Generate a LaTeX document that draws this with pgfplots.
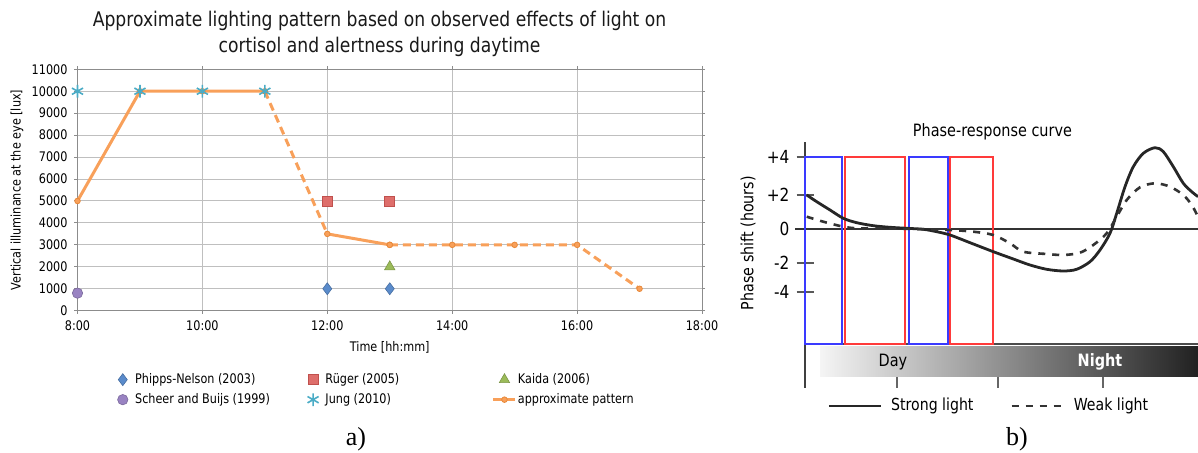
\documentclass[border=0pt]{standalone}
\usepackage{pgfplots}
\pgfplotsset{compat=1.18}
\usepackage{fontspec}
\setmainfont{DejaVu Sans}[FakeStretch=0.85]
\newfontfamily\timesfont{Liberation Serif}

\definecolor{gridc}{HTML}{BFBFBF}
\definecolor{axc}{HTML}{8C8C8C}
\definecolor{orng}{HTML}{F8A05A}
\definecolor{orngd}{HTML}{E8893A}
\definecolor{pnblue}{HTML}{5A8BCB}
\definecolor{rgred}{HTML}{DE6E6B}
\definecolor{rgredd}{HTML}{C0504D}
\definecolor{kgreen}{HTML}{9BBB59}
\definecolor{spurp}{HTML}{9983C2}
\definecolor{jcyan}{HTML}{4BACC6}
\definecolor{prcblue}{HTML}{3A3AFF}
\definecolor{prcred}{HTML}{FF3A3A}

\begin{document}
\begin{tikzpicture}
\path[use as bounding box] (0,0) rectangle (599pt,-226.5pt);

% ---------------- panel a ----------------
\begin{axis}[
  scale only axis, width=312.25pt, height=120.7pt,
  at={(38.75pt,-155.35pt)}, anchor=south west,
  xmin=8, xmax=18, ymin=0, ymax=11000,
  clip=false,
  xtick={8,10,12,14,16,18},
  xticklabels={8:00,10:00,12:00,14:00,16:00,18:00},
  ytick={0,1000,...,11000},
  scaled y ticks=false,
  /pgf/number format/1000 sep={},
  /pgf/number format/assume math mode=true,
  grid=major,
  major grid style={gridc, line width=0.5pt},
  axis line style={axc, line width=0.5pt},
  tick style={axc, line width=0.5pt},
  tick align=outside, major tick length=1.5pt,
  ticklabel style={font=\fontsize{6.6}{8}\selectfont},
  xlabel={Time [hh:mm]},
  ylabel={Vertical illuminance at the eye [lux]},
  label style={font=\fontsize{6.6}{8}\selectfont},
  xlabel style={at={(axis description cs:0.5,-0.1504)}, anchor=center},
  ylabel style={at={(axis description cs:-0.0969,0.5)}, anchor=center},
  title={Approximate lighting pattern based on observed effects of light on\\cortisol and alertness during daytime},
  title style={align=center, font=\fontsize{10.1}{12.7}\selectfont, text=black!90,
    at={(axis description cs:0.4836,1)}, anchor=south, inner sep=0pt, yshift=0.3pt},
  legend columns=3, legend cell align=left,
  legend style={at={(axis description cs:0.0536,-0.253)}, anchor=north west,
    draw=none, fill=none, inner sep=0pt, column sep=0pt, row sep=2.5pt,
    nodes={inner sep=0.5pt, text height=5pt, text depth=1.5pt},
    font=\fontsize{6.6}{8}\selectfont},
  legend image code/.code={\path (0pt,0pt) (11pt,0pt);
    \draw[mark repeat=2,mark phase=2,#1] plot coordinates {(0pt,0pt)(5.5pt,0pt)(11pt,0pt)};},
]
% approximate pattern (drawn first, legend entry added at the end)
\addplot[orng, line width=1.5pt, mark=*, mark size=1.4pt,
  mark options={fill=orng, draw=orngd, line width=0.4pt}, forget plot]
  coordinates {(8,5000)(9,10000)(10,10000)(11,10000)};
\addplot[orng, line width=1.5pt, dash pattern=on 4pt off 2.5pt, forget plot]
  coordinates {(11,10000)(12,3500)};
\addplot[orng, line width=1.5pt, mark=*, mark size=1.4pt,
  mark options={fill=orng, draw=orngd, line width=0.4pt}, forget plot]
  coordinates {(12,3500)(13,3000)};
\addplot[orng, line width=1.5pt, dash pattern=on 4pt off 2.5pt, mark=*, mark size=1.4pt,
  mark options={solid, fill=orng, draw=orngd, line width=0.4pt}, forget plot]
  coordinates {(13,3000)(14,3000)(15,3000)(16,3000)(17,1000)};

\addplot[only marks, mark=diamond*, mark size=3pt,
  mark options={fill=pnblue, draw=pnblue!80!black, line width=0.3pt}]
  coordinates {(12,1000)(13,1000)};
\addlegendentry{\makebox[82.75pt][l]{Phipps-Nelson (2003)}}
\addplot[only marks, mark=square*, mark size=2.5pt,
  mark options={fill=rgred, draw=rgredd, line width=0.3pt}]
  coordinates {(12,5000)(13,5000)};
\addlegendentry{\makebox[82.75pt][l]{Rüger (2005)}}
\addplot[only marks, mark=triangle*, mark size=3pt,
  mark options={fill=kgreen, draw=kgreen!80!black, line width=0.3pt}]
  coordinates {(13,2000)};
\addlegendentry{\makebox[82.75pt][l]{Kaida (2006)}}
\addplot[only marks, mark=*, mark size=2.6pt,
  mark options={fill=spurp, draw=spurp!80!black, line width=0.3pt}]
  coordinates {(8,800)};
\addlegendentry{\makebox[82.75pt][l]{Scheer and Buijs (1999)}}
\addplot[only marks, mark=asterisk, mark size=3.2pt,
  mark options={draw=jcyan, line width=0.8pt}]
  coordinates {(8,10000)(9,10000)(10,10000)(11,10000)};
\addlegendentry{\makebox[82.75pt][l]{Jung (2010)}}
\addlegendimage{orng, line width=1.5pt, mark=*, mark size=1.4pt, mark options={fill=orng, draw=orngd, line width=0.4pt}}
\addlegendentry{\makebox[82.75pt][l]{approximate pattern}}
\end{axis}

% ---------------- panel b ----------------
\begin{axis}[
  scale only axis, width=196.5pt, height=123pt,
  at={(402.5pt,-194pt)}, anchor=south west,
  xmin=805, xmax=1198, ymin=-159, ymax=87,
  clip=false,
  axis x line=none, axis y line=left,
  axis line style={-, black!75, line width=0.8pt},
  ytick={72,34,0,-34,-63}, yticklabels={+4,+2,0,-2,-4},
  tick align=center, major tick length=8.5pt,
  ytick style={black!65, line width=0.8pt},
  yticklabel style={font=\fontsize{9}{10}\selectfont, anchor=east},
  title={Phase-response curve},
  title style={at={(axis description cs:0.477,0.992)}, anchor=center, yshift=0pt, font=\fontsize{8.5}{10}\selectfont},
  ylabel={Phase shift (hours)},
  ylabel style={at={(axis description cs:-0.145,0.589)}, anchor=center, font=\fontsize{8.4}{10}\selectfont},
  legend columns=2,
  legend style={at={(axis description cs:0.056,-0.073)}, anchor=west,
    draw=none, fill=none, inner sep=0pt, column sep=0pt,
    nodes={inner sep=0pt}, font=\fontsize{8.3}{10}\selectfont},
  legend image code/.code={\draw[#1] (0pt,0pt) -- (26pt,0pt);},
]
% gradient day/night bar
\addplot[draw=none, left color=black!4, right color=black!87, forget plot]
  coordinates {(820,-118)(1198,-118)(1198,-148)(820,-148)} -- cycle;
\draw[black!70, line width=0.8pt] (axis cs:805,-115) -- (axis cs:1198,-115);
\draw[black!80, line width=0.7pt] (axis cs:795,0) -- (axis cs:1198,0);
\draw[black!60, line width=0.8pt] (axis cs:897,-148) -- (axis cs:897,-159);
\draw[black!60, line width=0.8pt] (axis cs:998,-148) -- (axis cs:998,-159);
\draw[black!60, line width=0.8pt] (axis cs:1103,-148) -- (axis cs:1103,-159);
\node[font=\fontsize{8.5}{10}\selectfont] at (axis cs:893,-133) {Day};
\node[font=\bfseries\fontsize{8.5}{10}\selectfont, text=white] at (axis cs:1100,-133) {Night};

% light pulse windows
\addplot[prcblue, line width=1pt, forget plot]
  coordinates {(805,-115)(805,72)(842,72)(842,-115)} -- cycle;
\addplot[prcred, line width=1pt, forget plot]
  coordinates {(845,-115)(845,72)(905,72)(905,-115)} -- cycle;
\addplot[prcblue, line width=1pt, forget plot]
  coordinates {(909,-115)(909,72)(948,72)(948,-115)} -- cycle;
\addplot[prcred, line width=1pt, forget plot]
  coordinates {(950,-115)(950,72)(993,72)(993,-115)} -- cycle;

% strong light PRC
\addplot[black!85, line width=1.4pt, smooth]
  coordinates {(806.7,34)(816.7,27.3)(830,19)(843.3,10.7)(856.7,6.3)(873.3,3.3)(890,1.7)
  (906.7,0.7)(923.3,-0.3)(936.7,-2.7)(950,-6)(970,-13.7)(993.3,-22.7)(1013.3,-30)
  (1030,-36)(1046.7,-40.3)(1063.3,-42)(1076.7,-40.3)(1090,-32.7)(1100,-21)(1110,-4.3)
  (1116.7,15.7)(1125,42.3)(1133.3,62.3)(1143.3,75.7)(1155,81.3)(1163.3,77.3)
  (1173.3,62.3)(1183.3,45.7)(1191.7,37.3)(1198,32.3)};
\addlegendentry{\makebox[64pt][l]{\hspace{4.5pt}Strong light}}
% weak light PRC
\addplot[black!80, line width=1.3pt, dash pattern=on 3.5pt off 3.5pt, smooth]
  coordinates {(806.7,12.3)(823.3,7.3)(843.3,2.3)(856.7,0.7)(873,0.7)(913,0)(950,-1)
  (973.3,-2.7)(993.3,-6)(1010,-14.3)(1023.3,-22.7)(1046.7,-25)(1063.3,-26)(1080,-23.7)
  (1093.3,-16)(1106.7,-4.3)(1116.7,12.3)(1126.7,29)(1140,41.7)(1155,45.7)(1170,42.3)
  (1183.3,34)(1191.7,24)(1198,12.3)};
\addlegendentry{\makebox[64pt][l]{\hspace{4.5pt}Weak light}}
\end{axis}

\node[font=\timesfont\fontsize{13}{15}\selectfont] at (178pt,-219.5pt) {a)};
\node[font=\timesfont\fontsize{13}{15}\selectfont] at (508.5pt,-219.5pt) {b)};
\end{tikzpicture}
\end{document}
